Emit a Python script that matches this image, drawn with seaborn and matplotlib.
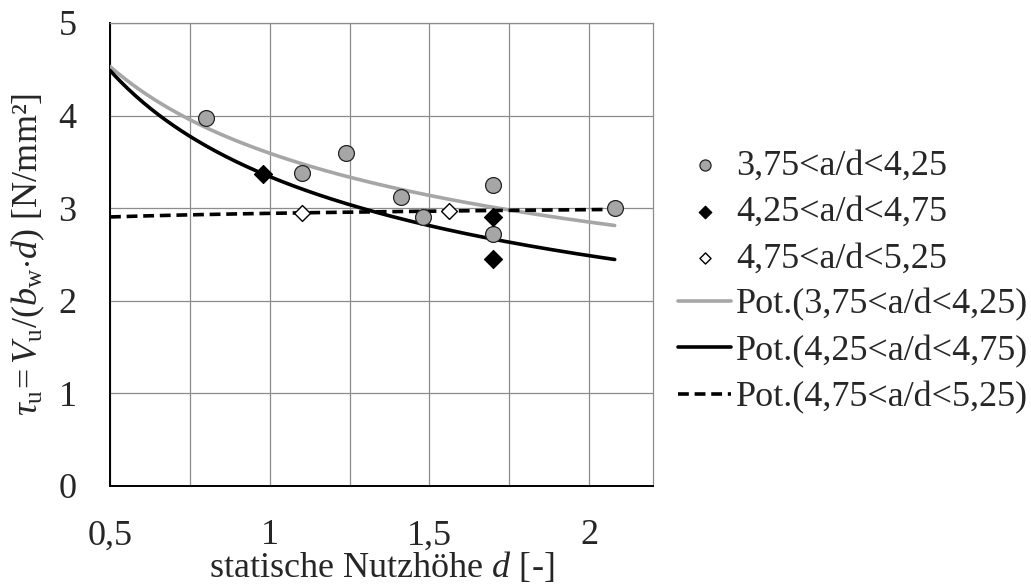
import numpy as np
import pandas as pd
import matplotlib
matplotlib.use("Agg")
import matplotlib.pyplot as plt
from matplotlib.ticker import MultipleLocator, FixedLocator, FixedFormatter
import seaborn as sns

# ---- data ----
grey_x = [0.80, 1.10, 1.24, 1.41, 1.48, 1.70, 1.70, 2.08]
grey_y = [3.97, 3.38, 3.60, 3.12, 2.90, 3.25, 2.72, 3.00]
black_x = [0.98, 1.70, 1.70]
black_y = [3.37, 2.90, 2.45]
white_x = [1.10, 1.56]
white_y = [2.95, 2.97]

series_labels = ["3,75<a/d<4,25", "4,25<a/d<4,75", "4,75<a/d<5,25"]
trend_labels = ["Pot.(3,75<a/d<4,25)", "Pot.(4,25<a/d<4,75)", "Pot.(4,75<a/d<5,25)"]
x_ticks = [0.5, 1.0, 1.5, 2.0]
x_tick_labels = ["0,5", "1", "1,5", "2"]
y_ticks = [0, 1, 2, 3, 4, 5]
y_tick_labels = ["0", "1", "2", "3", "4", "5"]
trend_range = (0.5, 2.08)

# ---- style ----
sns.set_theme(style="white")
plt.rcParams["font.family"] = ["Liberation Serif", "DejaVu Serif"]
plt.rcParams["mathtext.fontset"] = "custom"
plt.rcParams["mathtext.rm"] = "Liberation Serif"
plt.rcParams["mathtext.it"] = "Liberation Serif:italic"
plt.rcParams["mathtext.bf"] = "Liberation Serif:bold"

fig = plt.figure(figsize=(10.31, 5.88), dpi=100)
ax = fig.add_axes([0.1067, 0.1735, 0.5267, 0.7874])

GRID = "#8c8c8c"
LGREY = "#a6a6a6"

# trend lines (power fits y = a*x^b, least squares in log-log space)
def power_fit(xs, ys):
    b, lna = np.polyfit(np.log(xs), np.log(ys), 1)
    xx = np.linspace(trend_range[0], trend_range[1], 200)
    return pd.DataFrame({"x": xx, "y": np.exp(lna) * xx ** b})

fits = [power_fit(grey_x, grey_y), power_fit(black_x, black_y), power_fit(white_x, white_y)]

# scatter points
sns.scatterplot(x=grey_x, y=grey_y, ax=ax, marker="o", s=130, color=LGREY,
                edgecolor="#222222", linewidth=0.9, label=series_labels[0], zorder=4)
sns.scatterplot(x=black_x, y=black_y, ax=ax, marker="D", s=85, color="black",
                edgecolor="black", linewidth=0.8, label=series_labels[1], zorder=4)
sns.scatterplot(x=white_x, y=white_y, ax=ax, marker="D", s=65, color="white",
                edgecolor="black", linewidth=1.0, label=series_labels[2], zorder=4)

sns.lineplot(data=fits[0], x="x", y="y", ax=ax, color=LGREY, linewidth=2.6,
             estimator=None, sort=False, label=trend_labels[0], zorder=3)
sns.lineplot(data=fits[1], x="x", y="y", ax=ax, color="black", linewidth=2.6,
             estimator=None, sort=False, label=trend_labels[1], zorder=3)
sns.lineplot(data=fits[2], x="x", y="y", ax=ax, color="black", linewidth=2.6,
             linestyle=(0, (3, 1.6)), estimator=None, sort=False,
             label=trend_labels[2], zorder=3)

# axes
ax.set_xlim(0.5, 2.2)
ax.set_ylim(0, 5)
ax.xaxis.set_major_locator(FixedLocator(x_ticks))
ax.xaxis.set_major_formatter(FixedFormatter(x_tick_labels))
ax.xaxis.set_minor_locator(MultipleLocator(0.25))
ax.yaxis.set_major_locator(FixedLocator(y_ticks))
ax.yaxis.set_major_formatter(FixedFormatter(y_tick_labels))
ax.grid(True, which="both", axis="x", color=GRID, linewidth=0.9)
ax.grid(True, which="major", axis="y", color=GRID, linewidth=0.9)
ax.set_axisbelow(True)
ax.tick_params(axis="both", which="major", direction="out", length=8, width=1,
               color=GRID, labelsize=26)
ax.tick_params(axis="y", which="major", pad=16)
ax.tick_params(axis="x", which="major", pad=16)
ax.tick_params(axis="x", which="minor", length=0)

for side in ["left", "bottom"]:
    ax.spines[side].set_color("black")
    ax.spines[side].set_linewidth(1.4)
for side in ["top", "right"]:
    ax.spines[side].set_color(GRID)
    ax.spines[side].set_linewidth(0.9)

ax.set_xlabel("statische Nutzhöhe $d$ [-]", fontsize=26, labelpad=-2)
ax.set_ylabel(r"$\tau_\mathrm{u}\!=V_\mathrm{u}/(b_\mathrm{w}{\cdot}d)$ [N/mm²]",
              fontsize=26, labelpad=8)

handles, labels = ax.get_legend_handles_labels()
if ax.get_legend() is not None:
    ax.get_legend().remove()
leg = ax.legend(handles, labels, loc="center left",
                bbox_to_anchor=(0.658, 0.5205), bbox_transform=fig.transFigure,
                frameon=False, fontsize=26, markerscale=0.7, handlelength=1.45,
                handletextpad=0.15, labelspacing=0.36, borderpad=0, borderaxespad=0)

fig.savefig("out.png", dpi=100)
